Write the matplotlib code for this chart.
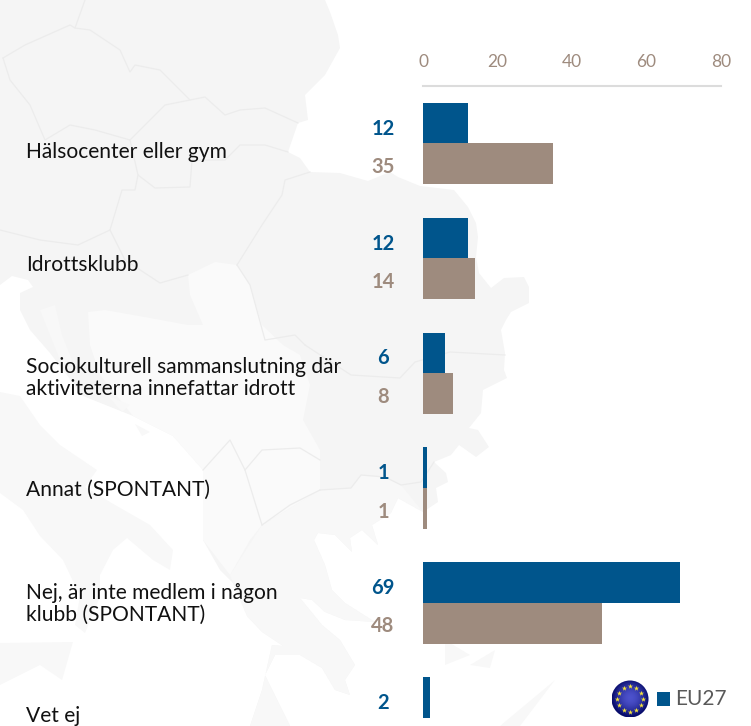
import numpy as np
import matplotlib
matplotlib.use("Agg")
import matplotlib.pyplot as plt
from matplotlib.patches import Polygon, Circle, Rectangle

plt.rcParams['font.family'] = ['Lato', 'DejaVu Sans']

categories = ["Hälsocenter eller gym", "Idrottsklubb",
              "Sociokulturell sammanslutning där\naktiviteterna innefattar idrott",
              "Annat (SPONTANT)", "Nej, är inte medlem i någon\nklubb (SPONTANT)", "Vet ej"]
eu27 = [12, 12, 6, 1, 69, 2]
country = [35, 14, 8, 1, 48, None]
ticks = [0, 20, 40, 60, 80]
label_y_px = [152, 265, 378, 490, 604, 716]

BLUE = '#00558c'
TAN = '#9e8b7e'
W, H = 751, 726
fig = plt.figure(figsize=(W/100, H/100), dpi=100, facecolor='white')

# background map, in pixel coordinates
bg = fig.add_axes([0, 0, 1, 1], zorder=0)
bg.set_xlim(0, W); bg.set_ylim(H, 0); bg.axis('off')
LAND = '#f5f5f5'; LIGHT = '#fafafa'; SOUTH = '#f8f8f8'; BORDER = '#ececec'
north = [(0,0),(325,0),(330,12),(338,35),(340,48),(325,75),(305,95),(308,120),(298,123),(288,152),(300,158),(310,172),
 (340,173),(368,181),(390,172),(398,177),(420,186),(454,190),(468,207),(476,223),(478,237),(476,257),(479,273),(491,288),
 (504,278),(524,277),(529,287),(529,303),(511,312),(506,320),(501,330),(505,353),(504,370),(507,378),(483,390),(481,413),
 (469,428),(478,430),(489,447),(476,457),(459,445),(451,455),(434,462),(446,473),(448,482),(436,488),(438,502),(423,512),
 (398,498),(391,513),(372,525),(378,545),(362,530),(350,538),(352,552),(335,535),(318,533),(314,540),(325,565),(332,590),
 (345,603),(375,622),(345,620),(325,612),(312,600),(300,598),(322,625),(340,640),(355,665),(345,680),(350,695),(335,690),
 (322,668),(300,655),(275,655),(265,675),(290,726),(250,726),(262,690),(272,645),(283,646),(262,632),(247,616),(233,583),
 (220,570),(203,540),(203,470),(173,436),(133,416),(83,396),(50,353),(30,330),(20,310),(20,293),(33,287),(28,280),(12,276),(0,285)]
bg.add_patch(Polygon(north, fc=LAND, ec='none'))
italy = [(0,392),(20,396),(40,425),(60,445),(97,470),(85,487),(115,505),(150,525),(173,550),(170,570),(153,560),(127,538),
 (113,550),(100,575),(100,597),(85,633),(75,625),(80,596),(63,560),(40,536),(23,510),(0,493)]
bg.add_patch(Polygon(italy, fc=SOUTH, ec='none'))
bg.add_patch(Polygon([(0,643),(73,642),(62,680),(40,665),(0,685)], fc=SOUTH, ec='none'))
greece = [(230,575),(262,525),(320,490),(351,488),(361,475),(385,477),(401,485),(423,512),(398,498),(391,513),(372,525),
 (378,545),(362,530),(350,538),(352,552),(335,535),(318,533),(314,540),(325,565),(332,590),(345,603),(375,622),(345,620),
 (325,612),(312,600),(300,598),(322,625),(340,640),(355,665),(345,680),(350,695),(335,690),(322,668),(300,655),(275,655),
 (265,675),(290,726),(250,726),(262,690),(272,645),(283,646),(262,632),(247,616),(233,583)]
bg.add_patch(Polygon(greece, fc=SOUTH, ec='none'))
bg.add_patch(Polygon([(188,275),(215,262),(237,265),(250,285),(262,325),(283,345),(300,355),(310,385),(303,420),(320,450),
 (320,490),(262,525),(250,540),(230,575),(203,540),(203,470),(173,436),(133,416),(100,375),(90,345),(88,312),(105,310),
 (150,318),(188,325),(203,325),(190,295)], fc=LIGHT, ec='none'))
for isl in [[(40,310),(55,305),(62,335),(72,360),(62,365),(50,335)],[(108,396),(130,405),(122,412)],[(135,424),(150,432),(142,436)],
            [(300,630),(325,650),(312,655)],[(445,640),(470,655),(445,665)],[(470,665),(495,650),(490,668)],[(555,680),(520,726),(500,726)]]:
    bg.add_patch(Polygon(isl, fc=SOUTH, ec='none'))
borders = [
 [(85,0),(75,28),(90,30),(120,50),(130,72),(135,65),(160,70),(170,80),(190,100),(205,97),(225,115),(240,110),(265,108),(298,123)],
 [(3,58),(25,45),(70,25),(75,28)],
 [(3,58),(10,80),(30,105),(45,140),(70,125),(95,130),(130,140),(165,105),(190,100)],
 [(130,140),(138,175),(155,188),(190,187),(192,160),(225,160),(240,145),(265,145),(288,152)],
 [(138,175),(135,190),(122,190),(110,230),(78,245),(40,240),(0,230)],
 [(110,230),(125,260),(160,283),(188,275)],
 [(237,265),(262,225),(282,195),(285,180),(310,172)],
 [(237,265),(250,285),(265,340),(295,335),(305,345)],
 [(305,345),(351,375),(400,378),(415,362),(450,352),(505,355)],
 [(320,490),(351,488),(361,475),(385,477),(401,485),(421,482),(434,462)],
 [(262,525),(290,505),(320,490)],
 [(245,470),(262,450),(300,448),(320,460)],
 [(203,470),(230,440),(245,470),(262,525)],
]
for b in borders:
    xs, ys = zip(*b)
    bg.plot(xs, ys, color=BORDER, lw=0.9)

for lab, y in zip(categories, label_y_px):
    bg.text(26, y, lab, color='#111111', fontsize=15.1, va='center', ha='left', linespacing=1.07)

# legend
bg.add_patch(Rectangle((657, 692), 13, 14, fc=BLUE, ec='none'))
bg.text(675, 699, 'EU27', color='#595959', fontsize=15, va='center', ha='left')
yy, xx = np.mgrid[-1:1:120j, -1:1:120j]
rr = np.clip(np.hypot(xx, yy+0.05), 0, 1)
img = np.zeros((120, 120, 3))
inner = np.array([0.30, 0.32, 0.80]); outer = np.array([0.03, 0.05, 0.42])
for c in range(3):
    img[..., c] = inner[c] + (outer[c]-inner[c]) * rr**1.8
im = bg.imshow(img, extent=(611.5, 648.5, 717.5, 680.5), zorder=3, aspect='auto')
clip = Circle((630, 699), 18.5, transform=bg.transData)
im.set_clip_path(clip)
bg.set_xlim(0, W); bg.set_ylim(H, 0)
ang = np.arange(12) * np.pi / 6
bg.scatter(630 + 12.7*np.cos(ang), 699 + 12.7*np.sin(ang), marker='*', s=15, color='#f5e43a', lw=0, zorder=4)

# chart
x0, x1, top = 423, 721, 85.5
ax = fig.add_axes([x0/W, 0, (x1-x0)/W, 1 - top/H], zorder=1)
ax.patch.set_alpha(0)
step = 114.9
ax.set_xlim(0, 80)
ax.set_ylim((H-143.4)/step, (top-143.4)/step)
bar_h = 40.7/step
pos = np.arange(len(categories))
ax.barh(pos - bar_h/2, eu27, height=bar_h, color=BLUE)
ax.barh(pos[:-1] + bar_h/2, country[:-1], height=bar_h, color=TAN)
for i, (a, b) in enumerate(zip(eu27, country)):
    ax.annotate(str(a), xy=(0, i - bar_h/2), xytext=(-28.8, -4.0), textcoords='offset points',
                ha='center', va='center', color=BLUE, fontweight='bold', fontsize=14.5)
    if b is not None:
        ax.annotate(str(b), xy=(0, i + bar_h/2), xytext=(-28.8, -2.2), textcoords='offset points',
                    ha='center', va='center', color=TAN, fontweight='bold', fontsize=14.5)
ax.xaxis.tick_top()
ax.set_xticks(ticks)
ax.tick_params(axis='x', length=0, pad=11.5, labelsize=12.5, labelcolor=TAN)
ax.set_yticks([])
for s in ['left', 'right', 'bottom']:
    ax.spines[s].set_visible(False)
ax.spines['top'].set_color('#dcdcdc')
ax.spines['top'].set_linewidth(1.5)

fig.savefig('out.png', dpi=100, facecolor='white')
